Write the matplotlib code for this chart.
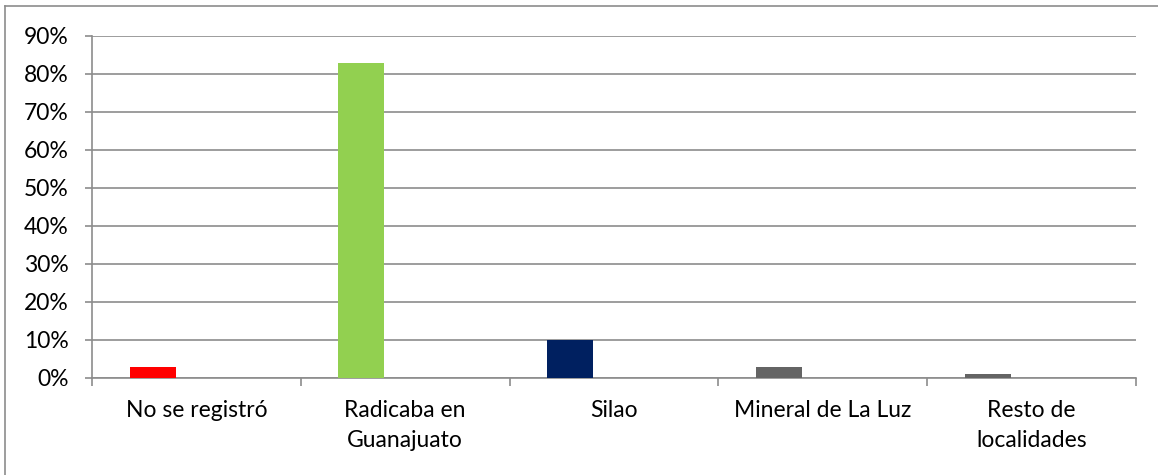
import matplotlib.pyplot as plt
from matplotlib.lines import Line2D
import numpy as np

plt.rcParams['font.family'] = ['Lato', 'DejaVu Sans']

categories = ['No se registró', 'Radicaba en\nGuanajuato', 'Silao',
              'Mineral de La Luz', 'Resto de\nlocalidades']
values = [3, 83, 10, 3, 1]
colors = ['#FF0000', '#92D050', '#002060', '#646464', '#646464']
yticks = [0, 10, 20, 30, 40, 50, 60, 70, 80, 90]

fig = plt.figure(figsize=(11.58, 4.75), dpi=100)
ax = fig.add_axes([92 / 1158, 97 / 475, (1136 - 92) / 1158, (378 - 36) / 475])

x = np.arange(len(categories))
ax.bar(x - 0.21, values, width=0.22, color=colors, zorder=3)

ax.set_xlim(-0.5, len(categories) - 0.5)
ax.set_ylim(0, 90)
ax.set_yticks(yticks)
ax.set_yticklabels([f'{v}%' for v in yticks])
ax.yaxis.grid(True, color='#8C8C8C', linewidth=1.2, zorder=0)

ax.set_xticks(np.arange(-0.5, len(categories), 1.0))
ax.set_xticklabels([])
ax.set_xticks(x, minor=True)
ax.set_xticklabels(categories, minor=True, fontsize=16.5, linespacing=1.5)
ax.tick_params(axis='x', which='minor', length=0, pad=16)
ax.tick_params(axis='x', which='major', length=6, color='#8C8C8C', width=1.2)
ax.tick_params(axis='y', length=5, color='#8C8C8C', width=1.2, labelsize=16.5, pad=12)

for side in ['top', 'right']:
    ax.spines[side].set_visible(False)
for side in ['left', 'bottom']:
    ax.spines[side].set_color('#8C8C8C')
    ax.spines[side].set_linewidth(1.2)

# outer chart border
fig.add_artist(Line2D([5 / 1158, 5 / 1158], [0, 1 - 6 / 475], color='#8C8C8C', lw=1.2,
                      transform=fig.transFigure))
fig.add_artist(Line2D([5 / 1158, 1], [1 - 6 / 475, 1 - 6 / 475], color='#8C8C8C', lw=1.2,
                      transform=fig.transFigure))

fig.savefig('out.png', dpi=100)
